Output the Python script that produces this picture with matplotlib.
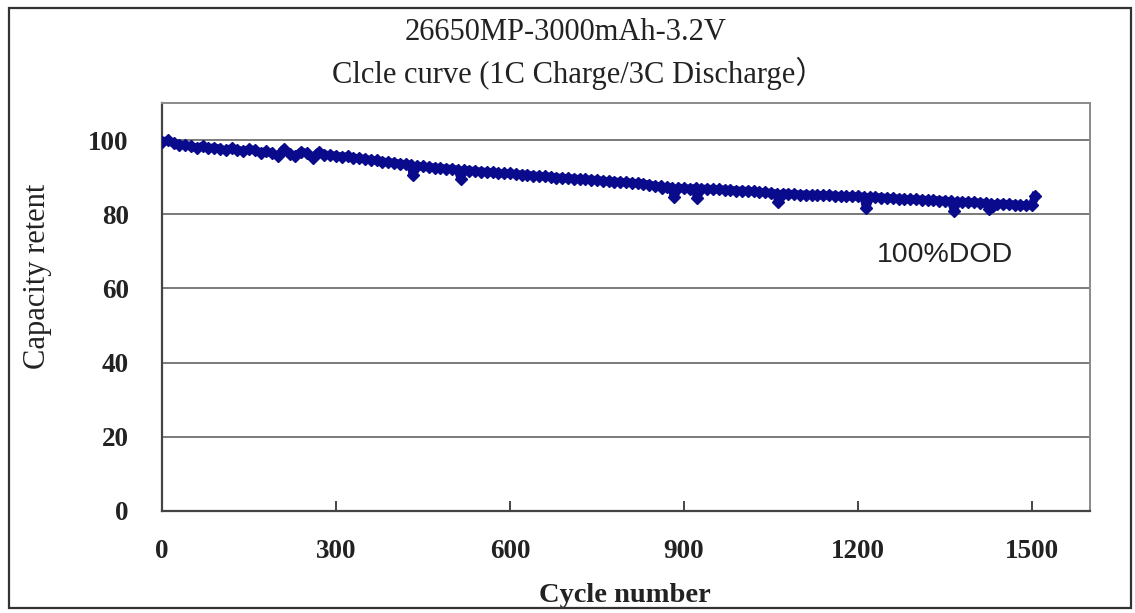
import numpy as np
import matplotlib
matplotlib.use("Agg")
import matplotlib.pyplot as plt
from matplotlib.patches import Rectangle

# capacity retention (%) read every 10 cycles
cycles = list(range(0, 1510, 10))
capacity = [
    99.6, 99.9, 99.2, 98.8, 98.6, 98.3, 97.9, 98.4, 97.8, 98.0,
    97.6, 97.2, 97.8, 97.4, 97.0, 97.5, 97.3, 96.6, 97.0, 96.4,
    95.8, 97.6, 96.2, 95.6, 96.9, 96.4, 95.3, 96.8, 96.1, 95.9,
    95.8, 95.5, 95.6, 95.2, 95.1, 94.9, 94.6, 94.5, 94.2, 94.0,
    93.9, 93.6, 93.5, 93.3, 93.0, 92.9, 92.7, 92.6, 92.4, 92.3,
    92.2, 92.0, 91.9, 91.8, 91.6, 91.5, 91.4, 91.3, 91.1, 91.0,
    91.0, 90.8, 90.7, 90.6, 90.4, 90.3, 90.2, 90.1, 89.9, 89.8,
    89.7, 89.6, 89.5, 89.4, 89.3, 89.2, 89.0, 88.9, 88.8, 88.7,
    88.6, 88.5, 88.3, 88.2, 88.0, 87.6, 87.5, 87.3, 87.2, 87.1,
    87.0, 86.9, 87.0, 86.9, 86.8, 86.8, 86.7, 86.6, 86.5, 86.4,
    86.3, 86.3, 86.2, 86.0, 85.9, 85.7, 85.6, 85.6, 85.5, 85.4,
    85.3, 85.3, 85.2, 85.2, 85.1, 85.1, 85.0, 84.9, 84.9, 84.8,
    84.8, 84.7, 84.7, 84.6, 84.5, 84.4, 84.3, 84.2, 84.1, 84.0,
    84.0, 83.9, 83.8, 83.8, 83.7, 83.6, 83.5, 83.4, 83.3, 83.3,
    83.2, 83.1, 83.0, 82.9, 82.8, 82.8, 82.7, 82.6, 82.5, 82.4, 82.4,
]

# single low / high readings
dip_cycles = [432, 515, 862, 882, 922, 1062, 1214, 1366, 1426, 1433, 1505]
dip_capacity = [90.5, 89.6, 87.0, 84.6, 84.4, 83.4, 81.6, 81.0, 81.5, 82.3, 84.8]

x = np.array(cycles + dip_cycles)
y = np.array(capacity + dip_capacity)
order = np.argsort(x, kind="stable")
x = x[order]
y = y[order]

xticks = [0, 300, 600, 900, 1200, 1500]
yticks = [0, 20, 40, 60, 80, 100]

serif = ["Liberation Serif", "Noto Sans CJK SC"]
navy = "#0a0a8c"
ink = "#222222"

fig = plt.figure(figsize=(11.35, 6.13), dpi=100)
fig.patches.append(Rectangle((9 / 1135, 5 / 613), 1122 / 1135, 600 / 613,
                             transform=fig.transFigure, fill=False,
                             edgecolor="#333333", linewidth=1.6))

ax = fig.add_axes([162 / 1135, 102 / 613, 928 / 1135, 408 / 613])
ax.plot(x, y, color=navy, linewidth=6, marker="D", markersize=6.5,
        markeredgecolor=navy, zorder=3)

ax.set_xlim(0, 1600)
ax.set_ylim(0, 110)
ax.set_xticks(xticks)
ax.set_yticks(yticks)
ax.yaxis.grid(True, color="#7a7a7a", linewidth=1.4)
ax.set_axisbelow(True)

for side in ["top", "right"]:
    ax.spines[side].set_color("#8a8a8a")
    ax.spines[side].set_linewidth(1.4)
for side in ["left", "bottom"]:
    ax.spines[side].set_color("#444444")
    ax.spines[side].set_linewidth(1.6)

ax.tick_params(axis="x", direction="in", length=7, width=1.4, color="#444444", pad=20)
ax.tick_params(axis="y", length=0, pad=24)
for lab in ax.get_xticklabels() + ax.get_yticklabels():
    lab.set_fontfamily(serif)
    lab.set_fontsize(19.5)
    lab.set_fontweight("bold")
    lab.set_color(ink)

ax.set_xlabel("Cycle number", family=serif, fontsize=20.5, fontweight="bold",
              color=ink, va="center")
ax.xaxis.set_label_coords(0.499, -0.206)
ax.set_ylabel("Capacity retent", family=serif, fontsize=22, color=ink,
              va="center")
ax.yaxis.set_label_coords(-0.134, 0.574)

ax.text(1350, 69, "100%DOD", family=["Liberation Sans"], fontsize=20.5,
        color=ink, ha="center", va="center")

fig.text(0.498, 1 - 33 / 613, "26650MP-3000mAh-3.2V", family=serif,
         fontsize=22, color=ink, ha="center", va="center")
fig.text(0.51, 1 - 73 / 613, "Clcle curve (1C Charge/3C Discharge）", family=serif,
         fontsize=22, color=ink, ha="center", va="center")

fig.savefig("out.png", dpi=100)
